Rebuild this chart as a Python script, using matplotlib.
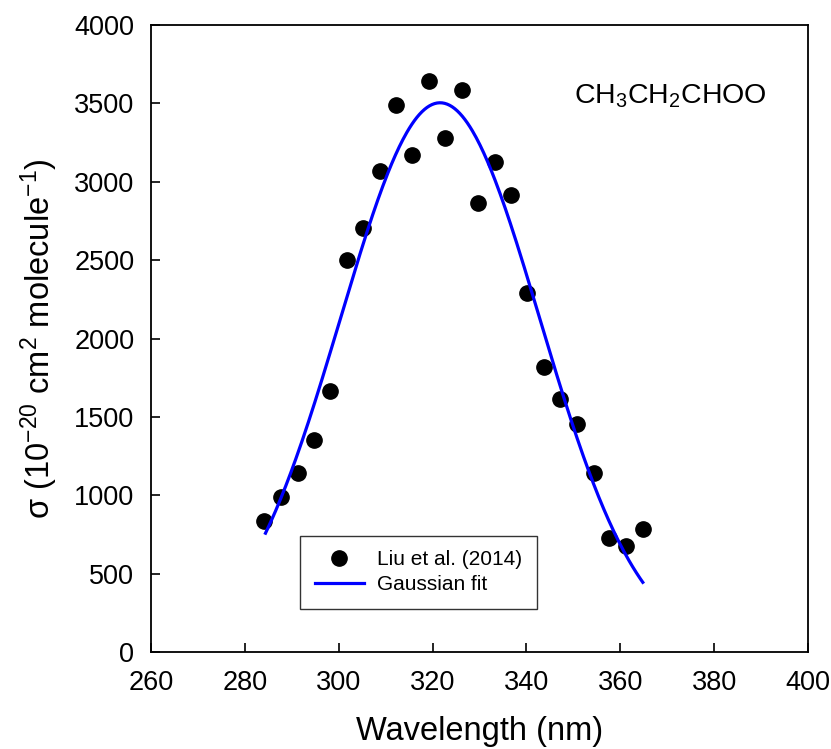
import numpy as np
import matplotlib
matplotlib.use("Agg")
import matplotlib.pyplot as plt

plt.rcParams['font.family'] = ['Liberation Sans', 'DejaVu Sans']
plt.rcParams['mathtext.default'] = 'regular'

# === DONNEES ===
wavelength = [284.1, 287.7, 291.3, 294.7, 298.2, 301.7, 305.2, 308.7, 312.2, 315.7,
              319.3, 322.7, 326.3, 329.7, 333.3, 336.8, 340.2, 343.7, 347.2, 350.8,
              354.3, 357.7, 361.3, 364.8]
sigma = [838, 989, 1144, 1352, 1665, 2499, 2707, 3069, 3488, 3173,
         3641, 3279, 3587, 2862, 3124, 2913, 2290, 1820, 1614, 1457,
         1144, 729, 678, 783]

# parametres du fit gaussien
fit_amp = 3504
fit_center = 321.6
fit_width = 21.26
fit_range = (284.4, 364.8)

fig = plt.figure(figsize=(8.31, 7.49), dpi=100)
ax = fig.add_axes([0.1817, 0.1295, 0.7906, 0.8371])

ax.plot(wavelength, sigma, 'o', color='black', markersize=11, label='Liu et al. (2014)')
x_fit = np.linspace(fit_range[0], fit_range[1], 300)
y_fit = fit_amp * np.exp(-(x_fit - fit_center) ** 2 / (2 * fit_width ** 2))
ax.plot(x_fit, y_fit, color='#0000ff', lw=2.3, label='Gaussian fit')

ax.set_xlim(260, 400)
ax.set_ylim(0, 4000)
ax.set_xticks(np.arange(260, 401, 20))
ax.set_yticks(np.arange(0, 4001, 500))
ax.tick_params(direction='in', length=6.5, width=1.2, labelsize=19.5,
               top=False, right=False)
ax.tick_params(axis='x', pad=13)
ax.tick_params(axis='y', pad=12)
for s in ax.spines.values():
    s.set_linewidth(1.3)

ax.set_xlabel('Wavelength (nm)', fontsize=23.5, labelpad=14)
ax.set_ylabel('σ (10$^{-20}$ cm$^{2}$ molecule$^{-1}$)', fontsize=23.5, labelpad=10)

ax.text(0.79, 0.887, 'CH$_3$CH$_2$CHOO', transform=ax.transAxes, fontsize=20.5,
        ha='center', va='center')

leg = ax.legend(loc='lower left', bbox_to_anchor=(0.2268, 0.0686), borderaxespad=0,
                fontsize=15, frameon=True, fancybox=False, edgecolor='black',
                borderpad=0.7, handlelength=2.36, handletextpad=0.63, labelspacing=0.3)
leg.get_frame().set_linewidth(1.0)

plt.savefig('out.png', dpi=100)
plt.close()
